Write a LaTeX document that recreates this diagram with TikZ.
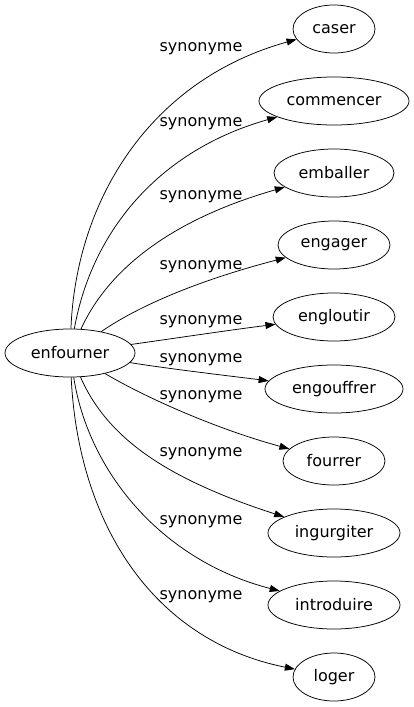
\documentclass[tikz,border=0pt]{standalone}
\usepackage{fontspec}
\setmainfont{DejaVu Sans}
\usetikzlibrary{shapes.geometric,arrows.meta}
\begin{document}
\begin{tikzpicture}[x=1pt,y=-1pt,
  word/.style={draw,line width=0.75pt,ellipse,inner sep=0pt,minimum height=48pt,font=\fontsize{16}{19}\selectfont},
  rel/.style={font=\fontsize{16}{19}\selectfont,inner sep=0pt},
  syn/.style={line width=0.75pt,-{Triangle[length=10pt,width=7pt]}}]
\useasboundingbox (0,0) rectangle (414,707);
\node[word,minimum width=130pt] (enf) at (70,353) {enfourner};
\node[word,minimum width=82pt] (cas) at (334,29) {caser};
\node[word,minimum width=150pt] (com) at (334,101) {commencer};
\node[word,minimum width=120pt] (emb) at (334,173) {emballer};
\node[word,minimum width=112pt] (eng) at (334,245) {engager};
\node[word,minimum width=122pt] (eng2) at (334,317) {engloutir};
\node[word,minimum width=138pt] (eng3) at (334,389) {engouffrer};
\node[word,minimum width=102pt] (fou) at (334,461) {fourrer};
\node[word,minimum width=132pt] (ing) at (334,533) {ingurgiter};
\node[word,minimum width=132pt] (int) at (334,605) {introduire};
\node[word,minimum width=82pt] (log) at (334,677) {loger};
% les arcs
\draw[syn] (enf) .. controls (76,200) and (150,80) .. (cas);
\draw[syn] (enf) .. controls (92,230) and (160,150) .. (com);
\draw[syn] (enf) .. controls (108,270) and (170,220) .. (emb);
\draw[syn] (enf) .. controls (140,305) and (200,280) .. (eng);
\draw[syn] (enf) .. controls (170,339) and (230,330) .. (eng2);
\draw[syn] (enf) .. controls (170,369) and (230,376) .. (eng3);
\draw[syn] (enf) .. controls (150,400) and (220,430) .. (fou);
\draw[syn] (enf) .. controls (108,440) and (170,480) .. (ing);
\draw[syn] (enf) .. controls (88,470) and (160,560) .. (int);
\draw[syn] (enf) .. controls (78,520) and (150,640) .. (log);
% les etiquettes
\node[rel] (r1) at (201,49) {synonyme};
\node[rel] (r2) at (201,124) {synonyme};
\node[rel] (r3) at (201,197) {synonyme};
\node[rel] (r4) at (201,267) {synonyme};
\node[rel] (r5) at (201,322) {synonyme};
\node[rel] (r6) at (201,360) {synonyme};
\node[rel] (r7) at (201,397) {synonyme};
\node[rel] (r8) at (201,454) {synonyme};
\node[rel] (r9) at (201,522) {synonyme};
\node[rel] (r10) at (201,597) {synonyme};
\end{tikzpicture}
\end{document}
